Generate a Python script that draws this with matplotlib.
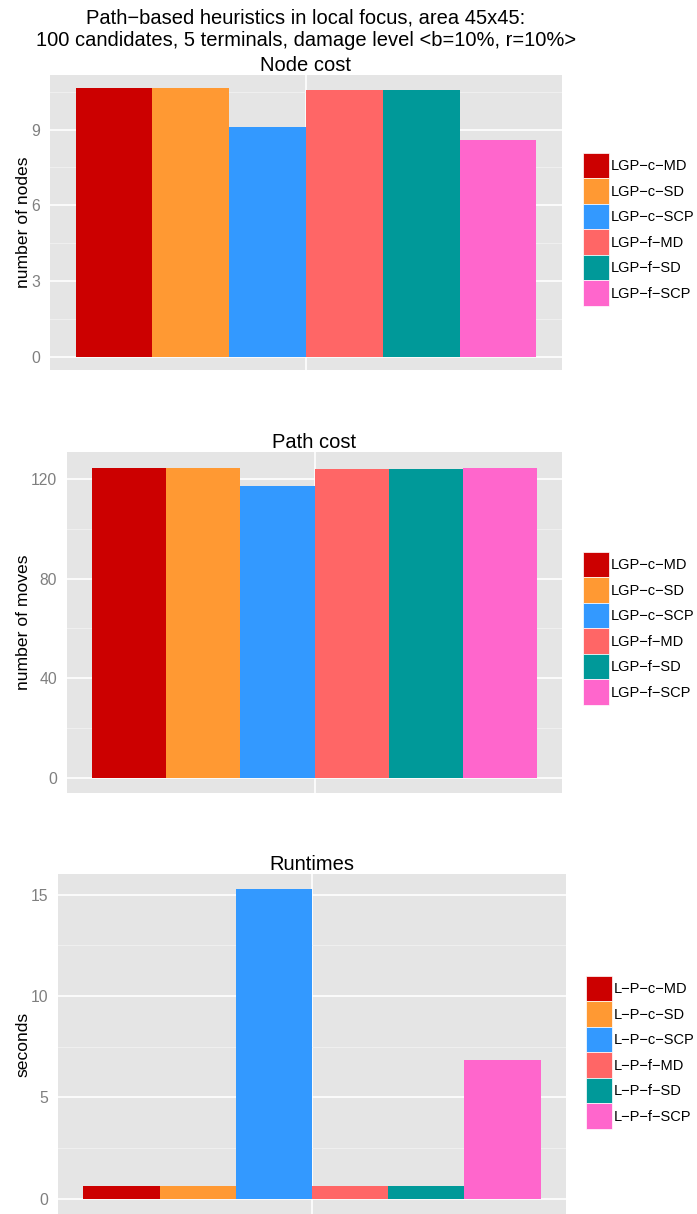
import matplotlib.pyplot as plt
from matplotlib.patches import Patch

# data
methods = ['c-MD', 'c-SD', 'c-SCP', 'f-MD', 'f-SD', 'f-SCP']
colors = ['#CC0000', '#FF9933', '#3399FF', '#FF6666', '#009999', '#FF66CC']
node_cost = [10.63, 10.63, 9.1, 10.58, 10.58, 8.57]
path_cost = [124.4, 124.8, 117.2, 124.0, 124.0, 124.4]
runtimes = [0.64, 0.64, 15.25, 0.64, 0.64, 6.86]

labels_lgp = ['LGP\u2212' + m.replace('-', '\u2212') for m in methods]
labels_lp = ['L\u2212P\u2212' + m.replace('-', '\u2212') for m in methods]

W, H = 697, 1214
fig = plt.figure(figsize=(W / 100, H / 100), dpi=100)
plt.rcParams['font.family'] = ['Liberation Sans', 'DejaVu Sans']


def px_axes(left, top, right, bottom):
    return fig.add_axes([left / W, 1 - bottom / H, (right - left) / W, (bottom - top) / H])


def panel(box, values, yticks, minor, ylabel, title, labels, lg_xy):
    ax = px_axes(*box)
    ax.set_facecolor('#E5E5E5')
    xs = [i - 2.5 for i in range(6)]
    ax.bar(xs, values, width=1.0, color=colors, zorder=3, linewidth=0)
    top = max(values)
    ax.set_ylim(-0.05 * top, 1.05 * top)
    ax.set_xlim(-3.333, 3.333)
    ax.set_yticks(yticks)
    ax.set_yticks(minor, minor=True)
    ax.set_xticks([0])
    ax.set_xticklabels([''])
    ax.grid(True, which='major', color='white', linewidth=1.2, zorder=1)
    ax.grid(True, which='minor', axis='y', color='#F2F2F2', linewidth=0.6, zorder=1)
    ax.tick_params(axis='both', which='both', length=0, colors='#7F7F7F', labelsize=11.3, pad=7)
    for s in ax.spines.values():
        s.set_visible(False)
    ax.set_ylabel(ylabel, fontsize=12.6, color='black', labelpad=0)
    ax.set_title(title, fontsize=14.5, pad=3)
    handles = [Patch(facecolor=c, edgecolor='white', linewidth=0.5) for c in colors]
    fig.legend(handles, labels, loc='upper left',
               bbox_to_anchor=(lg_xy[0] / W, 1 - lg_xy[1] / H),
               frameon=False, fontsize=10.5, handlelength=1.78, handleheight=2.31,
               labelspacing=0.0, handletextpad=0.14, borderpad=0, borderaxespad=0)
    return ax


panel((50, 75, 562, 370), node_cost, [0, 3, 6, 9], [1.5, 4.5, 7.5, 10.5],
      'number of nodes', 'Node cost', labels_lgp, (583, 153))
panel((67, 452, 562, 793), path_cost, [0, 40, 80, 120], [20, 60, 100],
      'number of moves', 'Path cost', labels_lgp, (583, 552))
panel((58, 874, 566, 1214), runtimes, [0, 5, 10, 15], [2.5, 7.5, 12.5],
      'seconds', 'Runtimes', labels_lp, (586, 976))

fig.text(306 / W, 1 - 29 / H,
         'Path\u2212based heuristics in local focus, area 45x45:\n'
         '100 candidates, 5 terminals, damage level <b=10%, r=10%>',
         ha='center', va='center', fontsize=14.5, linespacing=1.22)

fig.savefig('out.png', dpi=100)
